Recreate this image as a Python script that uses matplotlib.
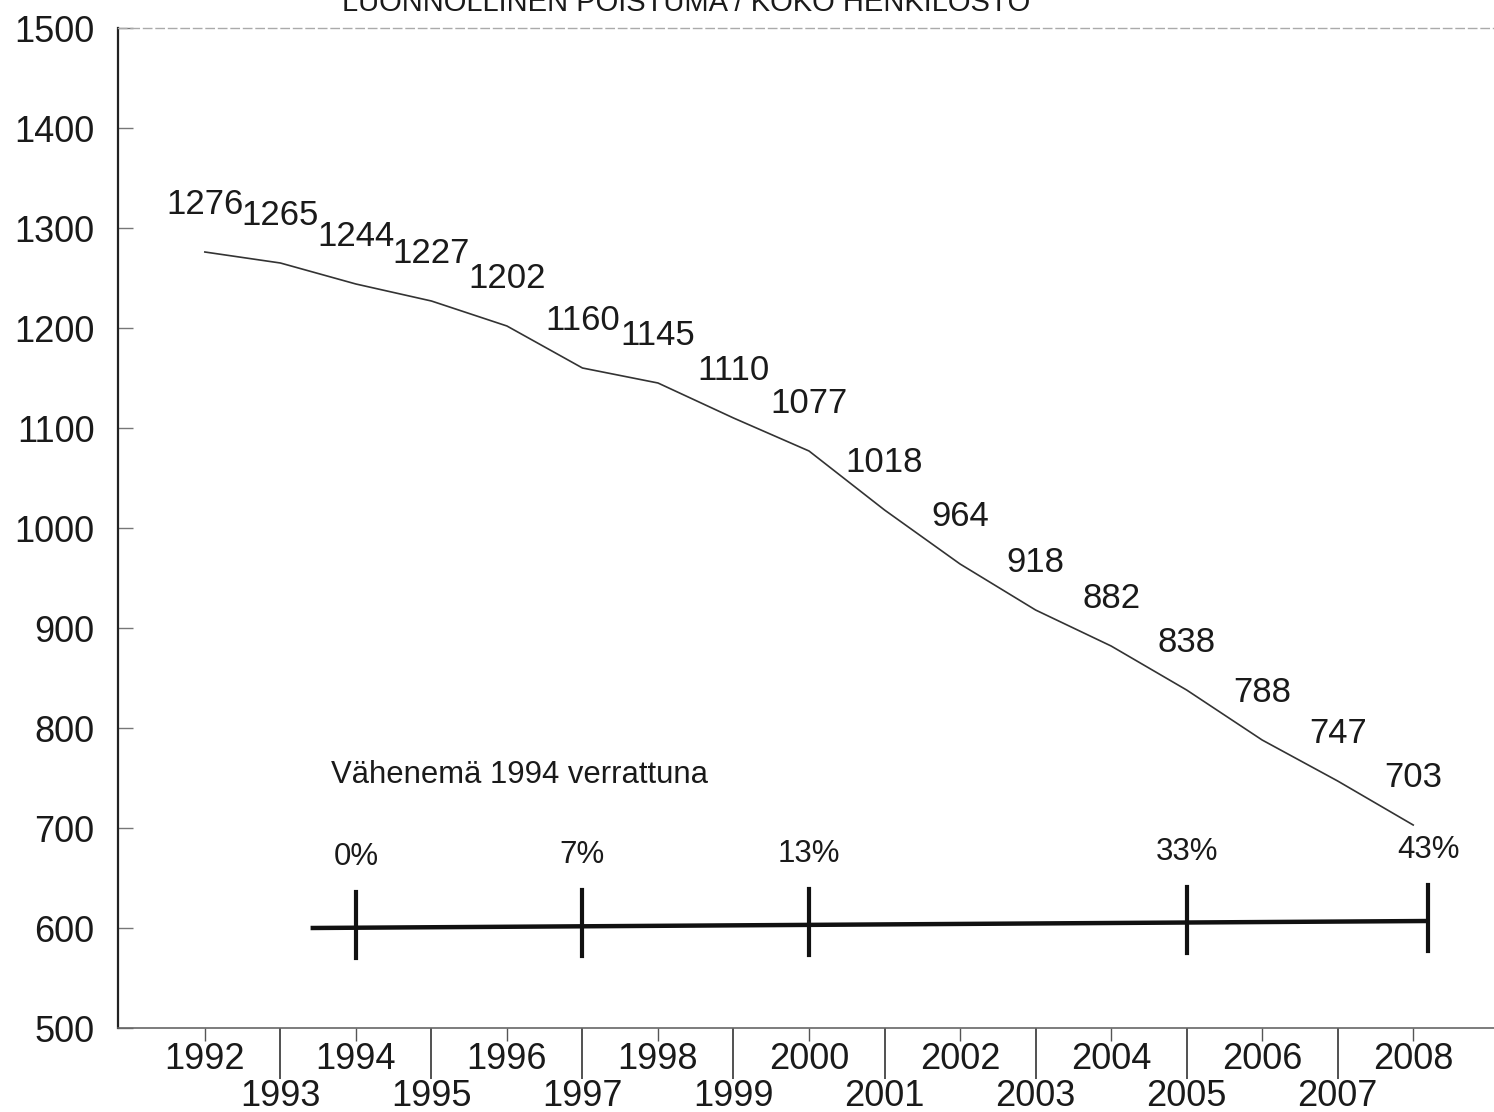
import matplotlib.pyplot as plt

plt.rcParams['font.family'] = ['Liberation Sans', 'DejaVu Sans']

# henkilöstö vuosittain
years = list(range(1992, 2009))
staff = [1276, 1265, 1244, 1227, 1202, 1160, 1145, 1110, 1077,
         1018, 964, 918, 882, 838, 788, 747, 703]

# vähenemä 1994 verrattuna
cut_years = [1994, 1997, 2000, 2005, 2008.2]
cut_labels = ['0%', '7%', '13%', '33%', '43%']

title = 'LUONNOLLINEN POISTUMA / KOKO HENKILÖSTÖ'
note = 'Vähenemä 1994 verrattuna'

fig = plt.figure(figsize=(14.94, 11.12), dpi=100)
ax = fig.add_axes([118/1494, 1 - 1028/1112, 1 - 118/1494, 1000/1112])

ax.plot(years, staff, color='#333333', lw=1.2)
for x, v in zip(years, staff):
    ax.annotate(str(v), (x, v), xytext=(0, 34), textcoords='offset points',
                ha='center', va='center', fontsize=25, color='#1a1a1a')

# alempi janakaavio
ax.plot([1993.4, 2008.2], [600, 607], color='#111111', lw=3.2, solid_capstyle='butt')
for x, lab in zip(cut_years, cut_labels):
    yc = 600 + 7 * (x - 1993.4) / (2008.2 - 1993.4)
    ax.plot([x, x], [yc - 30, yc + 36], color='#111111', lw=3)
    ax.text(x, yc + 71, lab, ha='center', va='center', fontsize=22.5, color='#1a1a1a')
ax.text(1993.67, 753, note, ha='left', va='center', fontsize=22.3, color='#1a1a1a')

fig.text(686/1494, 1 - 11/1112, title, ha='center', va='baseline',
         fontsize=21, color='#1a1a1a')

ax.set_xlim(1990.85, 2009.07)
ax.set_ylim(500, 1500)
ax.set_yticks(range(500, 1501, 100))
ax.tick_params(axis='y', direction='in', length=11, width=1, pad=17,
               labelsize=26, colors='#1a1a1a', color='#777777')

even = [y for y in years if y % 2 == 0]
odd = [y for y in years if y % 2 == 1]
ax.set_xticks(even, [str(y) for y in even])
ax.set_xticks(odd, [str(y) for y in odd], minor=True)
ax.tick_params(axis='x', which='major', length=9, width=1, pad=1,
               labelsize=26, labelcolor='#1a1a1a', color='#555555')
ax.tick_params(axis='x', which='minor', length=37, width=1.2, pad=0,
               labelsize=26, labelcolor='#1a1a1a', color='#333333')

ax.spines['right'].set_visible(False)
ax.spines['left'].set_color('#222222')
ax.spines['left'].set_linewidth(1.6)
ax.spines['bottom'].set_color('#666666')
ax.spines['bottom'].set_linewidth(1.2)
ax.spines['top'].set_color('#aaaaaa')
ax.spines['top'].set_linewidth(1)
ax.spines['top'].set_linestyle((0, (6, 3)))

fig.savefig('out.png', dpi=100)
